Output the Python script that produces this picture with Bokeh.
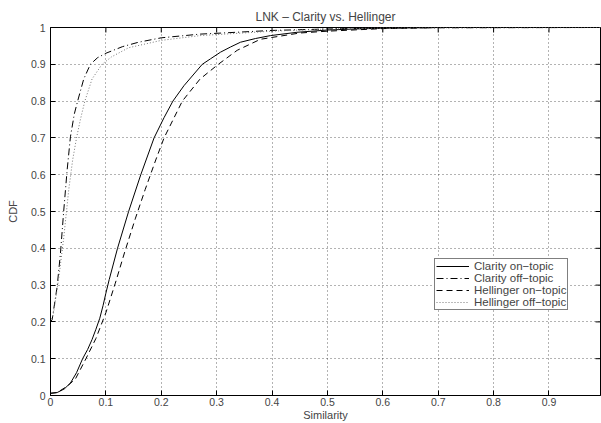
from bokeh.plotting import figure
from bokeh.models import Range1d, FixedTicker, Legend, LegendItem
from bokeh.embed import file_html
from bokeh.resources import INLINE

# Clarity on-topic (solid)
clar_on_x = [0, 0.012, 0.025, 0.036, 0.047, 0.058, 0.067, 0.075, 0.082, 0.089, 0.095, 0.1,
             0.106, 0.121, 0.141, 0.163, 0.187, 0.205, 0.221, 0.241, 0.274, 0.289, 0.307,
             0.325, 0.343, 0.370, 0.397, 0.445, 0.499, 0.55, 0.6, 0.7, 0.8, 1.0]
clar_on_y = [0.006, 0.008, 0.018, 0.034, 0.062, 0.1, 0.125, 0.152, 0.18, 0.21, 0.245, 0.278,
             0.315, 0.4, 0.5, 0.6, 0.7, 0.755, 0.8, 0.842, 0.9, 0.915, 0.933,
             0.947, 0.960, 0.970, 0.978, 0.987, 0.993, 0.996, 0.998, 1.0, 1.0, 1.0]

# Clarity off-topic (dash-dot)
clar_off_x = [0, 0.003, 0.012, 0.018, 0.024, 0.030, 0.036, 0.043, 0.049, 0.060, 0.072, 0.085,
              0.1, 0.13, 0.159, 0.2, 0.27, 0.4, 0.5, 0.6, 1.0]
clar_off_y = [0.2, 0.206, 0.296, 0.387, 0.504, 0.612, 0.703, 0.765, 0.8, 0.86, 0.9, 0.918,
              0.93, 0.948, 0.96, 0.972, 0.982, 0.992, 0.996, 0.999, 1.0]

# Hellinger on-topic (dashed)
hell_on_x = [0, 0.012, 0.03, 0.045, 0.064, 0.082, 0.1, 0.117, 0.134, 0.153, 0.171, 0.19,
             0.205, 0.238, 0.27, 0.303, 0.337, 0.379, 0.45, 0.5, 0.6, 0.7, 1.0]
hell_on_y = [0.006, 0.008, 0.025, 0.045, 0.1, 0.155, 0.225, 0.305, 0.39, 0.48, 0.56, 0.64,
             0.7, 0.8, 0.86, 0.9, 0.938, 0.968, 0.985, 0.99, 0.997, 1.0, 1.0]

# Hellinger off-topic (dotted)
hell_off_x = [0, 0.005, 0.015, 0.024, 0.033, 0.040, 0.047, 0.054, 0.062, 0.075, 0.093, 0.11,
              0.141, 0.2, 0.27, 0.4, 0.5, 0.6, 1.0]
hell_off_y = [0.2, 0.22, 0.32, 0.43, 0.56, 0.64, 0.7, 0.75, 0.8, 0.86, 0.9, 0.92,
              0.945, 0.965, 0.978, 0.99, 0.996, 0.999, 1.0]

x_ticks = [0, 0.1, 0.2, 0.3, 0.4, 0.5, 0.6, 0.7, 0.8, 0.9]
x_labels = ["0", "0.1", "0.2", "0.3", "0.4", "0.5", "0.6", "0.7", "0.8", "0.9"]
y_ticks = [0, 0.1, 0.2, 0.3, 0.4, 0.5, 0.6, 0.7, 0.8, 0.9, 1.0]
y_labels = ["0", "0.1", "0.2", "0.3", "0.4", "0.5", "0.6", "0.7", "0.8", "0.9", "1"]

FONT = "Liberation Sans"
X_END = 0.993
FRAME_W = 550
FRAME_H = 369
TICK_PX = 5

p = figure(width=601, height=423, output_backend="svg", toolbar_location=None,
           x_range=Range1d(0, X_END), y_range=Range1d(0, 1),
           title="LNK \u2013 Clarity vs. Hellinger")
p.min_border_left = 50
p.min_border_right = 1
p.min_border_top = 27
p.min_border_bottom = 27
p.background_fill_color = "white"
p.border_fill_color = "white"
p.outline_line_color = "black"
p.outline_line_width = 1

p.title.align = "center"
p.title.text_font = FONT
p.title.text_font_size = "12px"
p.title.text_font_style = "normal"
p.title.standoff = 8

for ax in (p.xaxis[0], p.yaxis[0]):
    ax.major_label_text_font = FONT
    ax.major_label_text_font_size = "10.5px"
    ax.axis_label_text_font = FONT
    ax.axis_label_text_font_size = "11px"
    ax.axis_label_text_font_style = "normal"
    ax.major_tick_in = TICK_PX
    ax.major_tick_out = 0
    ax.minor_tick_in = 0
    ax.minor_tick_out = 0
    ax.axis_line_color = "black"

p.xaxis.ticker = FixedTicker(ticks=x_ticks)
p.xaxis.major_label_overrides = {t: l for t, l in zip(x_ticks, x_labels)}
p.yaxis.ticker = FixedTicker(ticks=y_ticks)
p.yaxis.major_label_overrides = {t: l for t, l in zip(y_ticks, y_labels)}
p.xaxis.axis_label = "Similarity"
p.yaxis.axis_label = "CDF"
p.xaxis.major_label_standoff = 2
p.yaxis.major_label_standoff = 5
p.xaxis.axis_label_standoff = 0
p.yaxis.axis_label_standoff = 9

p.xgrid.ticker = FixedTicker(ticks=x_ticks)
p.ygrid.ticker = FixedTicker(ticks=y_ticks)
for g in (p.xgrid[0], p.ygrid[0]):
    g.grid_line_color = "black"
    g.grid_line_alpha = 0.6
    g.grid_line_dash = "1 3"
    g.grid_line_width = 1

# inward tick marks on the top and right edges of the box
dy = TICK_PX / FRAME_H
dx = TICK_PX / FRAME_W * X_END
p.segment(x0=x_ticks, y0=[1] * len(x_ticks), x1=x_ticks, y1=[1 - dy] * len(x_ticks),
          line_color="black", line_width=1)
p.segment(x0=[X_END] * len(y_ticks), y0=y_ticks, x1=[X_END - dx] * len(y_ticks), y1=y_ticks,
          line_color="black", line_width=1)

r1 = p.line(clar_on_x, clar_on_y, line_color="black", line_width=1)
r2 = p.line(clar_off_x, clar_off_y, line_color="black", line_width=1, line_dash="7 3 1 3")
r3 = p.line(hell_on_x, hell_on_y, line_color="black", line_width=1, line_dash="6 4")
r4 = p.line(hell_off_x, hell_off_y, line_color="#777777", line_width=1, line_dash="1 2")

legend = Legend(items=[
    LegendItem(label="Clarity on\u2212topic", renderers=[r1]),
    LegendItem(label="Clarity off\u2212topic", renderers=[r2]),
    LegendItem(label="Hellinger on\u2212topic", renderers=[r3]),
    LegendItem(label="Hellinger off\u2212topic", renderers=[r4]),
], location=(384, 85))
legend.label_text_font = FONT
legend.label_text_font_size = "11.5px"
legend.label_height = 12
legend.glyph_height = 12
legend.glyph_width = 33
legend.label_standoff = 5
legend.spacing = 0
legend.padding = 1
legend.margin = 0
legend.border_line_color = "black"
legend.border_line_width = 1
legend.background_fill_color = "white"
legend.background_fill_alpha = 1
p.add_layout(legend, "center")

open("out.html", "w").write(file_html(p, INLINE))
